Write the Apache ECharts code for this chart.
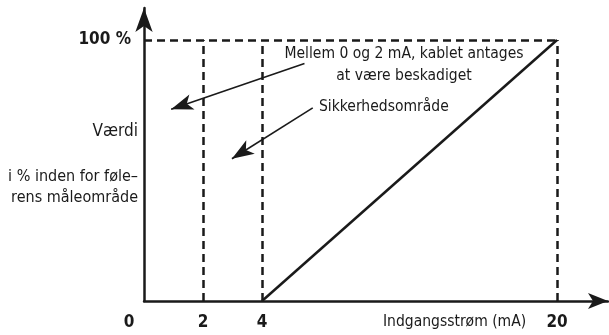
<!DOCTYPE html>
<html>
<head>
<meta charset="utf-8">
<script src="https://cdn.jsdelivr.net/npm/echarts@6/dist/echarts.min.js"></script>
<style>
  html, body { margin: 0; padding: 0; background: #fff; }
  #chart { width: 609px; height: 335px; }
</style>
</head>
<body>
<div id="chart"></div>
<script>
// strøm i mA og deres plads på den (brudte) x-akse
var currentMA = [0, 2, 4, 20];
var axisSlot = [0, 1, 2, 7];
// signal: 4 mA -> 0 %, 20 mA -> 100 %
var lineMA = [4, 20];
var linePct = [0, 100];
// stiplede hjælpelinjer
var dashedMA = [2, 4, 20];
var fullScale = 100;
// pile (hale -> spids), i akse-enheder
var arrowTails = [[2.72, 91], [2.86, 74]];
var arrowTips = [[0.46, 73.5], [1.49, 54.5]];

var FONT = "'Liberation Sans Narrow', 'DejaVu Sans Condensed', sans-serif";
var INK = '#1a1a1a';

function slotOf(mA) {
  return axisSlot[currentMA.indexOf(mA)];
}

var chart = echarts.init(document.getElementById('chart'));

var dashed = [];
dashedMA.forEach(function (mA) {
  dashed.push([{ coord: [slotOf(mA), 0] }, { coord: [slotOf(mA), fullScale] }]);
});
dashed.push([{ coord: [0, fullScale] }, { coord: [slotOf(20), fullScale] }]);

var arrows = arrowTails.map(function (t, i) {
  return [{ coord: t }, { coord: arrowTips[i] }];
});

chart.setOption({
  animation: false,
  grid: { left: 144, right: 1, top: 8, bottom: 34 },
  xAxis: {
    type: 'value',
    min: 0,
    max: 7.864,
    splitLine: { show: false },
    axisTick: { show: false },
    axisLine: {
      lineStyle: { color: INK, width: 2.5 },
      symbol: ['none', 'arrow'],
      symbolSize: [12, 20]
    },
    axisLabel: {
      customValues: axisSlot,
      margin: 13,
      color: INK,
      fontFamily: FONT,
      fontWeight: 'bold',
      fontSize: 17,
      formatter: function (v) {
        var lbl = currentMA[axisSlot.indexOf(v)];
        return v === 0 ? '{z|' + lbl + '}' : String(lbl);
      },
      rich: {
        z: { fontFamily: FONT, fontWeight: 'bold', fontSize: 17, color: INK, padding: [0, 30, 0, 0] }
      }
    }
  },
  yAxis: {
    type: 'value',
    min: 0,
    max: 112.26,
    splitLine: { show: false },
    axisTick: { show: false },
    axisLine: {
      lineStyle: { color: INK, width: 2.5 },
      symbol: ['none', 'arrow'],
      symbolSize: [13, 24]
    },
    axisLabel: {
      customValues: [fullScale],
      margin: 13,
      color: INK,
      fontFamily: FONT,
      fontWeight: 'bold',
      fontSize: 17,
      formatter: function (v) { return v + ' %'; }
    }
  },
  series: [
    {
      type: 'line',
      data: lineMA.map(function (mA, i) { return [slotOf(mA), linePct[i]]; }),
      showSymbol: false,
      lineStyle: { color: INK, width: 2.5 },
      markLine: {
        silent: true,
        symbol: 'none',
        label: { show: false },
        lineStyle: { color: INK, width: 2.5, type: [8, 5] },
        data: dashed
      }
    },
    {
      type: 'line',
      data: [],
      markLine: {
        silent: true,
        symbol: ['none', 'arrow'],
        symbolSize: [12, 22],
        label: { show: false },
        lineStyle: { color: INK, width: 1.6, type: 'solid' },
        data: arrows
      }
    }
  ],
  graphic: [
    {
      type: 'text', x: 404, y: 64.5,
      style: {
        text: 'Mellem 0 og 2 mA, kablet antages\nat være beskadiget',
        align: 'center', verticalAlign: 'middle',
        font: '15.5px ' + FONT, fill: INK, lineHeight: 22
      }
    },
    {
      type: 'text', x: 319, y: 107,
      style: { text: 'Sikkerhedsområde', font: '15.5px ' + FONT, fill: INK, verticalAlign: 'middle' }
    },
    {
      type: 'text', x: 138, y: 132,
      style: { text: 'Værdi', font: '17px ' + FONT, fill: INK, align: 'right', verticalAlign: 'middle' }
    },
    {
      type: 'text', x: 138, y: 187,
      style: {
        text: 'i % inden for føle–\nrens måleområde',
        font: '16px ' + FONT, fill: INK, align: 'right', verticalAlign: 'middle', lineHeight: 21
      }
    },
    {
      type: 'text', x: 383, y: 322,
      style: { text: 'Indgangsstrøm (mA)', font: '15.5px ' + FONT, fill: INK, verticalAlign: 'middle' }
    }
  ]
});
</script>
</body>
</html>
